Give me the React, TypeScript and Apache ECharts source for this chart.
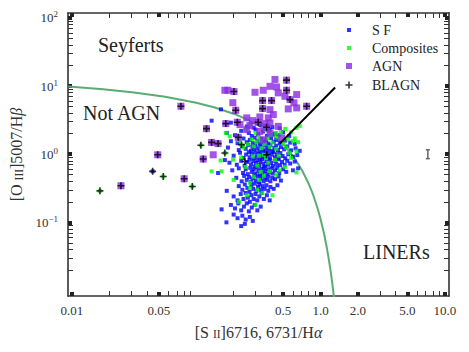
import React, { useEffect, useRef } from 'react';
import * as echarts from 'echarts';

const X_MIN = 0.0093;
const X_MAX = 10.8;
const Y_MIN = 0.0083;
const Y_MAX = 118;

const xMajorTicks = [0.01, 0.05, 0.5, 1, 2, 5, 10];
const xTickLabels = ['0.01', '0.05', '0.5', '1.0', '2.0', '5.0', '10.0'];
const xMinorTicks = [0.02, 0.03, 0.04, 0.06, 0.07, 0.08, 0.09, 0.2, 0.3, 0.4, 0.6, 0.7, 0.8, 0.9, 3, 4, 6, 7, 8, 9];
const yMajorTicks = [0.1, 1, 10, 100];
const yTickExponents = ['\u22121', '0', '1', '2'];
const yMinorTicks = [
  0.02, 0.03, 0.04, 0.05, 0.06, 0.07, 0.08, 0.09,
  0.2, 0.3, 0.4, 0.5, 0.6, 0.7, 0.8, 0.9,
  2, 3, 4, 5, 6, 7, 8, 9,
  20, 30, 40, 50, 60, 70, 80, 90,
];

const sfPoints: [number, number][] = [
  [0.133, 3.1], [0.158, 4.55], [0.19, 2.9], [0.255, 2.55], [0.29, 2.45], [0.33, 2.7], [0.41, 2.5], [0.47, 2.4],
  [0.176, 2.05], [0.205, 1.9], [0.23, 2.2], [0.265, 2.05], [0.28, 1.85], [0.3, 2.3], [0.315, 1.95], [0.345, 2.15], [0.37, 1.85], [0.39, 2.3], [0.43, 2.0], [0.46, 1.9], [0.5, 2.1], [0.56, 1.85],
  [0.19, 1.55], [0.215, 1.45], [0.24, 1.7], [0.255, 1.5], [0.27, 1.62], [0.285, 1.45], [0.295, 1.75], [0.31, 1.55], [0.325, 1.42], [0.335, 1.68], [0.35, 1.5], [0.365, 1.6], [0.38, 1.43], [0.4, 1.72], [0.42, 1.52], [0.44, 1.62], [0.47, 1.45], [0.52, 1.58], [0.57, 1.48], [0.62, 1.42],
  [0.18, 1.25], [0.22, 1.15], [0.235, 1.32], [0.25, 1.2], [0.262, 1.36], [0.275, 1.12], [0.283, 1.28], [0.292, 1.18], [0.3, 1.38], [0.312, 1.22], [0.322, 1.1], [0.33, 1.3], [0.342, 1.17], [0.355, 1.35], [0.36, 1.13], [0.372, 1.26], [0.385, 1.19], [0.395, 1.36], [0.41, 1.11], [0.425, 1.24], [0.44, 1.33], [0.455, 1.15], [0.48, 1.27], [0.51, 1.18], [0.54, 1.3], [0.58, 1.14], [0.63, 1.22], [0.68, 1.12],
  [0.2, 0.95], [0.225, 1.05], [0.24, 0.88], [0.252, 0.99], [0.265, 1.07], [0.27, 0.9], [0.28, 1.0], [0.29, 0.87], [0.298, 1.06], [0.305, 0.93], [0.318, 1.02], [0.326, 0.88], [0.335, 0.97], [0.345, 1.08], [0.352, 0.9], [0.362, 1.0], [0.375, 0.92], [0.383, 1.05], [0.392, 0.86], [0.405, 0.98], [0.418, 1.07], [0.43, 0.9], [0.445, 1.0], [0.46, 0.88], [0.475, 1.04], [0.495, 0.94], [0.52, 0.87], [0.55, 1.0], [0.6, 0.92], [0.65, 0.97],
  [0.185, 0.75], [0.212, 0.7], [0.23, 0.8], [0.245, 0.68], [0.256, 0.77], [0.268, 0.83], [0.276, 0.71], [0.288, 0.79], [0.296, 0.66], [0.303, 0.74], [0.31, 0.82], [0.32, 0.69], [0.328, 0.77], [0.338, 0.84], [0.347, 0.72], [0.357, 0.66], [0.366, 0.79], [0.378, 0.7], [0.388, 0.82], [0.4, 0.74], [0.413, 0.67], [0.427, 0.8], [0.44, 0.72], [0.458, 0.84], [0.472, 0.69], [0.49, 0.77], [0.515, 0.7], [0.54, 0.8], [0.57, 0.73], [0.62, 0.78],
  [0.195, 0.58], [0.22, 0.62], [0.238, 0.53], [0.25, 0.6], [0.26, 0.51], [0.272, 0.63], [0.28, 0.55], [0.29, 0.6], [0.3, 0.52], [0.308, 0.64], [0.316, 0.57], [0.325, 0.5], [0.333, 0.61], [0.343, 0.54], [0.35, 0.63], [0.36, 0.57], [0.37, 0.51], [0.38, 0.6], [0.392, 0.54], [0.404, 0.62], [0.416, 0.52], [0.43, 0.58], [0.448, 0.63], [0.465, 0.53], [0.5, 0.6], [0.53, 0.55], [0.6, 0.58], [0.66, 0.62],
  [0.21, 0.45], [0.232, 0.4], [0.243, 0.48], [0.255, 0.42], [0.266, 0.46], [0.275, 0.39], [0.284, 0.44], [0.293, 0.49], [0.302, 0.41], [0.312, 0.47], [0.32, 0.39], [0.33, 0.44], [0.34, 0.48], [0.348, 0.4], [0.358, 0.45], [0.37, 0.42], [0.382, 0.47], [0.395, 0.4], [0.41, 0.45], [0.43, 0.43], [0.46, 0.47], [0.48, 0.41],
  [0.176, 0.29], [0.22, 0.34], [0.235, 0.3], [0.246, 0.36], [0.258, 0.32], [0.268, 0.28], [0.278, 0.35], [0.287, 0.31], [0.296, 0.37], [0.305, 0.29], [0.314, 0.33], [0.323, 0.36], [0.332, 0.3], [0.342, 0.34], [0.355, 0.31], [0.367, 0.35], [0.38, 0.29], [0.395, 0.33], [0.42, 0.31], [0.45, 0.35],
  [0.2, 0.24], [0.215, 0.21], [0.228, 0.26], [0.24, 0.22], [0.25, 0.27], [0.26, 0.23], [0.27, 0.2], [0.278, 0.25], [0.29, 0.22], [0.3, 0.26], [0.31, 0.21], [0.322, 0.24], [0.335, 0.27], [0.35, 0.22], [0.37, 0.25], [0.39, 0.21],
  [0.16, 0.155], [0.19, 0.18], [0.205, 0.16], [0.218, 0.19], [0.23, 0.15], [0.242, 0.17], [0.255, 0.19], [0.265, 0.145], [0.28, 0.165], [0.295, 0.18], [0.31, 0.15], [0.33, 0.17],
  [0.175, 0.1], [0.2, 0.13], [0.215, 0.115], [0.23, 0.088], [0.235, 0.125], [0.246, 0.095], [0.25, 0.11], [0.27, 0.12], [0.285, 0.105],
  [0.17, 0.82], [0.15, 0.53], [0.0446, 0.56],
];

const compositePoints: [number, number][] = [
  [0.173, 2.05], [0.186, 1.83], [0.27, 2.7], [0.44, 2.05], [0.48, 2.07], [0.68, 2.6], [0.64, 2.43],
  [0.157, 0.81], [0.16, 0.56], [0.198, 0.83], [0.23, 1.38], [0.133, 0.56], [0.64, 0.54], [0.27, 0.38], [0.255, 0.25], [0.41, 0.25], [0.2, 0.42],
  [0.25, 2.3], [0.3, 2.05], [0.32, 1.78], [0.36, 2.25], [0.4, 1.95], [0.52, 2.35], [0.58, 2.1], [0.62, 1.7],
  [0.22, 1.6], [0.26, 1.4], [0.28, 1.65], [0.305, 1.5], [0.33, 1.58], [0.355, 1.4], [0.375, 1.7], [0.41, 1.48], [0.45, 1.75], [0.5, 1.42], [0.55, 1.65], [0.6, 1.55], [0.66, 1.5],
  [0.24, 1.25], [0.29, 1.3], [0.335, 1.22], [0.35, 0.98], [0.39, 1.28], [0.44, 1.2], [0.53, 1.25], [0.56, 1.05], [0.64, 1.1],
  [0.23, 0.9], [0.285, 0.93], [0.32, 0.95], [0.365, 0.88], [0.38, 0.75], [0.43, 0.82], [0.46, 0.95], [0.58, 0.88],
  [0.25, 0.65], [0.31, 0.68], [0.33, 0.55], [0.39, 0.56], [0.47, 0.58], [0.52, 0.65],
  [0.29, 0.47], [0.32, 0.42], [0.35, 0.48], [0.27, 0.32], [0.31, 0.3], [0.34, 0.27], [0.22, 0.2], [0.3, 0.18], [0.44, 0.5],
  [0.0168, 0.29], [0.0543, 0.47], [0.093, 0.336], [0.109, 1.35], [0.17, 1.04],
];

const agnPoints: [number, number][] = [
  [0.17, 8.67], [0.18, 8.67], [0.201, 8.3], [0.297, 8.1], [0.346, 8.67], [0.392, 9.9], [0.43, 12.5], [0.443, 9.7],
  [0.457, 7.94], [0.533, 12.2], [0.533, 8.67], [0.517, 7.08], [0.568, 6.33], [0.643, 7.5], [0.611, 5.66], [0.643, 4.78],
  [0.55, 4.62], [0.773, 5.05], [0.342, 6.12], [0.404, 6.12], [0.342, 4.67], [0.392, 4.51], [0.417, 3.81], [0.38, 3.41],
  [0.325, 3.52], [0.315, 2.94], [0.284, 3.11], [0.255, 3.41], [0.225, 2.72], [0.27, 2.63], [0.357, 2.81], [0.392, 2.88],
  [0.368, 2.48], [0.214, 2.94], [0.173, 2.81], [0.218, 1.77], [0.208, 4.41], [0.197, 5.7], [0.457, 2.56], [0.487, 1.73],
  [0.255, 2.29], [0.325, 2.16], [0.392, 2.05], [0.346, 1.63],
  [0.0753, 5.05], [0.1138, 0.85], [0.137, 0.98], [0.133, 1.49], [0.15, 1.43], [0.121, 2.37], [0.08, 0.436], [0.049, 0.98], [0.0248, 0.344],
];

const blagnPoints: [number, number][] = [
  [0.201, 8.3], [0.533, 12.2], [0.533, 8.67], [0.568, 6.33], [0.773, 5.05], [0.342, 6.12], [0.404, 6.12], [0.342, 4.67],
  [0.315, 2.94], [0.368, 2.48], [0.214, 2.94], [0.173, 2.81], [0.218, 1.77], [0.208, 4.41],
  [0.0753, 5.05], [0.1138, 0.85], [0.133, 1.49], [0.15, 1.43], [0.121, 2.37], [0.08, 0.436], [0.049, 0.98], [0.0248, 0.344],
  [0.0168, 0.29], [0.0446, 0.56], [0.0543, 0.47], [0.093, 0.336], [0.109, 1.35], [0.17, 1.04],
  [0.368, 0.98], [0.231, 1.38], [0.246, 0.78],
];

const kewleyCurve: [number, number][] = [
  [0.00933, 9.86], [0.0178, 8.96], [0.0316, 8.02], [0.0562, 6.94], [0.1, 5.68], [0.141, 4.84], [0.1995, 3.93],
  [0.251, 3.29], [0.316, 2.64], [0.398, 2.0], [0.447, 1.68], [0.501, 1.38], [0.562, 1.089], [0.631, 0.823],
  [0.708, 0.586], [0.794, 0.385], [0.851, 0.284], [0.891, 0.226], [0.955, 0.152], [1.0, 0.112], [1.072, 0.0656],
  [1.122, 0.043], [1.161, 0.0299], [1.202, 0.02], [1.235, 0.014], [1.259, 0.0106], [1.288, 0.0074],
];

const seyfertLinerLine: [number, number][] = [[0.47, 1.43], [1.31, 9.5]];

const errorBar: [number, number, number][] = [[7.3, 0.86, 1.16]];

const SERIF = 'Liberation Serif';
const AXIS_COLOR = '#333';
const PLUS = 'path://M2.7,0H4.3V2.7H7V4.3H4.3V7H2.7V4.3H0V2.7H2.7Z';

const lg = (v: number) => Math.log10(v);
const matchIdx = (arr: number[], v: number) => arr.findIndex((t) => Math.abs(lg(t) - v) < 1e-6);

export default function App() {
  const ref = useRef<HTMLDivElement>(null);

  useEffect(() => {
    if (!ref.current) return;
    const chart = echarts.init(ref.current, undefined, { renderer: 'svg' });

    const xExt = { min: lg(X_MIN), max: lg(X_MAX) };
    const yExt = { min: lg(Y_MIN), max: lg(Y_MAX) };
    const noSplit = { splitLine: { show: false }, splitArea: { show: false } };
    const majorTick = (vals: number[]) => ({
      show: true, inside: true, length: 4, customValues: vals.map(lg),
      lineStyle: { color: '#222', width: 4 },
    });
    const minorTick = (vals: number[]) => ({
      show: true, inside: true, length: 5, customValues: vals.map(lg),
      lineStyle: { color: '#333', width: 1 },
    });
    const axisLine = { show: true, onZero: false, lineStyle: { color: AXIS_COLOR, width: 1.6 } };
    const noLine = { show: false, onZero: false };
    const nameRich = {
      n: { fontFamily: SERIF, fontSize: 16, color: AXIS_COLOR, verticalAlign: 'bottom', lineHeight: 18 },
      s: { fontFamily: SERIF, fontSize: 11.5, color: AXIS_COLOR, verticalAlign: 'bottom', lineHeight: 14 },
      i: { fontFamily: SERIF, fontSize: 16, fontStyle: 'italic', color: AXIS_COLOR, verticalAlign: 'bottom', lineHeight: 18 },
    };

    const option: any = {
      animation: false,
      backgroundColor: '#fff',
      grid: { left: 68, right: 20, top: 13, bottom: 56, outerBoundsMode: 'none', containLabel: false },
      xAxis: [
        { type: 'log', logBase: 10, min: X_MIN, max: X_MAX, show: false, position: 'bottom', axisLine: noLine },
        {
          type: 'value', position: 'bottom', ...xExt, ...noSplit, axisLine,
          axisTick: majorTick(xMajorTicks),
          axisLabel: {
            customValues: xMajorTicks.map(lg), margin: 8,
            fontFamily: SERIF, fontSize: 13, color: AXIS_COLOR,
            formatter: (v: number) => xTickLabels[matchIdx(xMajorTicks, v)] ?? '',
          },
          name: '{n|[S }{s|II}{n|]6716, 6731/H}{i|\u03b1}',
          nameLocation: 'middle', nameGap: 26,
          nameTextStyle: { rich: nameRich },
        },
        { type: 'value', position: 'bottom', ...xExt, ...noSplit, axisLine: noLine, axisTick: minorTick(xMinorTicks), axisLabel: { show: false } },
        { type: 'value', position: 'top', ...xExt, ...noSplit, axisLine, axisTick: majorTick(xMajorTicks), axisLabel: { show: false } },
        { type: 'value', position: 'top', ...xExt, ...noSplit, axisLine: noLine, axisTick: minorTick(xMinorTicks), axisLabel: { show: false } },
      ],
      yAxis: [
        { type: 'log', logBase: 10, min: Y_MIN, max: Y_MAX, show: false, position: 'left', axisLine: noLine },
        {
          type: 'value', position: 'left', ...yExt, ...noSplit, axisLine,
          axisTick: majorTick(yMajorTicks),
          axisLabel: {
            customValues: yMajorTicks.map(lg), margin: 10,
            formatter: (v: number) => {
              const i = matchIdx(yMajorTicks, v);
              return i < 0 ? '' : `{b|10}{s|${yTickExponents[i]}}`;
            },
            rich: {
              b: { fontFamily: SERIF, fontSize: 13, color: AXIS_COLOR, lineHeight: 16 },
              s: { fontFamily: SERIF, fontSize: 9, color: AXIS_COLOR, verticalAlign: 'top', lineHeight: 10 },
            },
          },
          name: '{n|[O }{s|III}{n|]5007/H}{i|\u03b2}',
          nameLocation: 'middle', nameGap: 42,
          nameTextStyle: { rich: nameRich },
        },
        { type: 'value', position: 'left', ...yExt, ...noSplit, axisLine: noLine, axisTick: minorTick(yMinorTicks), axisLabel: { show: false } },
        { type: 'value', position: 'right', ...yExt, ...noSplit, axisLine, axisTick: majorTick(yMajorTicks), axisLabel: { show: false } },
        { type: 'value', position: 'right', ...yExt, ...noSplit, axisLine: noLine, axisTick: minorTick(yMinorTicks), axisLabel: { show: false } },
      ],
      legend: [
        {
          data: [{ name: 'S F', icon: 'rect' }], left: 347, top: 23, padding: 0, itemWidth: 4, itemHeight: 4,
          textStyle: { fontFamily: SERIF, fontSize: 14, color: '#222', padding: [0, 0, 0, 16] },
        },
        {
          data: [{ name: 'Composites', icon: 'rect' }], left: 347, top: 41, padding: 0, itemWidth: 4, itemHeight: 4,
          textStyle: { fontFamily: SERIF, fontSize: 14, color: '#222', padding: [0, 0, 0, 16] },
        },
        {
          data: [{ name: 'AGN', icon: 'rect' }], left: 346, top: 59, padding: 0, itemWidth: 6, itemHeight: 6,
          textStyle: { fontFamily: SERIF, fontSize: 14, color: '#222', padding: [0, 0, 0, 15] },
        },
        {
          data: [{ name: 'BLAGN', icon: PLUS }], left: 345.5, top: 78, padding: 0, itemWidth: 7, itemHeight: 7,
          textStyle: { fontFamily: SERIF, fontSize: 14, color: '#222', padding: [0, 0, 0, 14.5] },
        },
      ],
      graphic: [
        { type: 'text', left: 98, top: 35, style: { text: 'Seyferts', font: `20px "${SERIF}"`, fill: '#222' } },
        { type: 'text', left: 83, top: 103, style: { text: 'Not AGN', font: `20px "${SERIF}"`, fill: '#222' } },
        { type: 'text', left: 363, top: 242, style: { text: 'LINERs', font: `20px "${SERIF}"`, fill: '#222' } },
      ],
      series: [
        {
          name: 'Kewley', type: 'line', data: kewleyCurve, showSymbol: false, symbol: 'none',
          lineStyle: { color: '#5aad72', width: 2 }, z: 1, silent: true,
        },
        {
          name: 'S F', type: 'scatter', data: sfPoints, symbol: 'rect', symbolSize: 4,
          itemStyle: { color: '#0000ff' }, z: 2,
        },
        {
          name: 'Composites', type: 'scatter', data: compositePoints, symbol: 'rect', symbolSize: 4,
          itemStyle: { color: '#00ff00' }, z: 3,
        },
        {
          name: 'AGN', type: 'scatter', data: agnPoints, symbol: 'rect', symbolSize: 7,
          itemStyle: { color: '#8a2be2' }, z: 4,
        },
        {
          name: 'BLAGN', type: 'scatter', data: blagnPoints, symbol: PLUS, symbolSize: 7,
          itemStyle: { color: '#000' }, z: 5,
        },
        {
          name: 'SeyfertLiner', type: 'line', data: seyfertLinerLine, showSymbol: false, symbol: 'none',
          lineStyle: { color: '#000', width: 2 }, z: 6, silent: true,
        },
        {
          name: 'error', type: 'custom', data: errorBar, z: 6,
          encode: { x: 0, y: [1, 2] },
          renderItem: (_p: any, api: any) => {
            const x = api.value(0);
            const a = api.coord([x, api.value(1)]);
            const b = api.coord([x, api.value(2)]);
            const style = { stroke: '#666', lineWidth: 1.5 };
            return {
              type: 'group',
              children: [
                { type: 'line', shape: { x1: a[0], y1: a[1], x2: b[0], y2: b[1] }, style },
                { type: 'line', shape: { x1: a[0] - 2, y1: a[1], x2: a[0] + 2, y2: a[1] }, style },
                { type: 'line', shape: { x1: b[0] - 2, y1: b[1], x2: b[0] + 2, y2: b[1] }, style },
              ],
            };
          },
        },
      ],
    };

    chart.setOption(option);
    return () => chart.dispose();
  }, []);

  return <div ref={ref} style={{ position: 'fixed', left: 0, top: 0, width: 469, height: 352 }} />;
}
